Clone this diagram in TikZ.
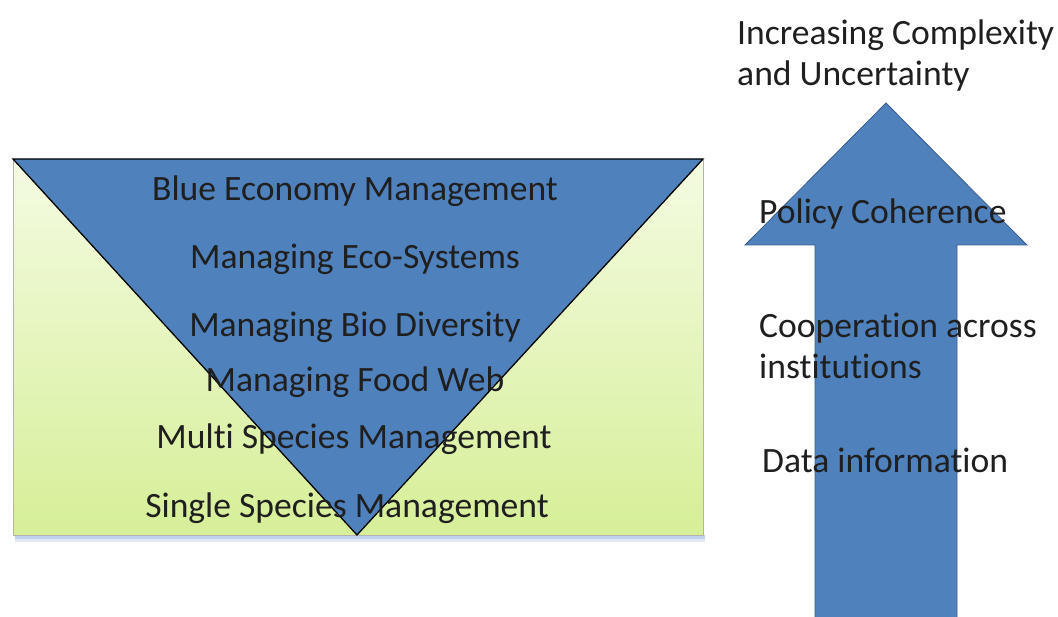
\documentclass[tikz,border=0pt]{standalone}
\usepackage{fontspec}
\setmainfont{Carlito}[Ligatures={NoCommon}]
\definecolor{triblue}{RGB}{79,129,189}
\definecolor{arrowline}{RGB}{56,93,138}
\definecolor{greentop}{RGB}{244,251,226}
\definecolor{greenbot}{RGB}{214,239,152}
\definecolor{shadowblue}{RGB}{150,180,220}
\begin{document}
\begin{tikzpicture}[x=1pt,y=-1pt,
  lbl/.style={font=\fontsize{35.6}{41}\selectfont, inner sep=0pt, text=black!88},
  lblc/.style={lbl, anchor=base},
  lbll/.style={lbl, anchor=base west, align=left}]
\useasboundingbox (0,0) rectangle (1058,617);
% panel with shadow
\fill[shadowblue, opacity=0.6] (15,535) rectangle (705,539);
\fill[shadowblue, opacity=0.3] (15,539) rectangle (705,542);
\shade[top color=greentop, bottom color=greenbot, draw=gray!60, line width=0.4pt] (13,160) rectangle (703,535);
% inverted triangle
\draw[fill=triblue, draw=black, line width=1.3pt, line join=miter] (13,159) -- (703,159) -- (357,535) -- cycle;
% upward arrow
\draw[fill=triblue, draw=arrowline, line width=0.8pt, line join=miter] (815,625) -- (815,245) -- (745,245) -- (886,103) -- (1027,245) -- (957,245) -- (957,625);
% texts
\node[lblc] (t1) at (355,201) {Blue Economy Management};
\node[lblc] (t2) at (355,269) {Managing Eco-Systems};
\node[lblc] (t3) at (355,337) {Managing Bio Diversity};
\node[lblc] (t4) at (355,392) {Managing Food Web};
\node[lblc] (t5) at (354,449) {Multi Species Management};
\node[lblc] (t6) at (347,517) {Single Species Management};
\node[lbll] (top) at (737,86) {Increasing Complexity\\and Uncertainty};
\node[lbll] (pc) at (759,224) {Policy Coherence};
\node[lbll] (co) at (759,379) {Cooperation across\\institutions};
\node[lbll] (di) at (762,472) {Data information};
\end{tikzpicture}
\end{document}
